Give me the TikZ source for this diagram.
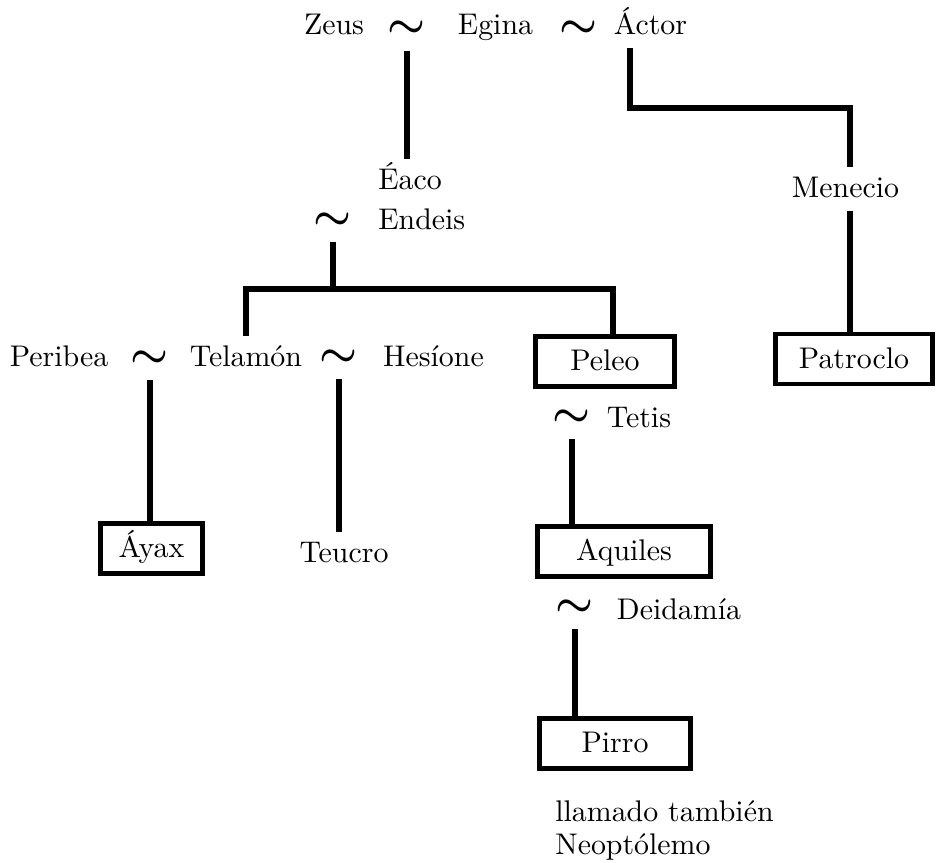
\documentclass[tikz,border=0pt]{standalone}
\usepackage{fontspec}
\usepackage{amsmath}
\setmainfont{lmroman10-regular.otf}

\begin{document}
\begin{tikzpicture}[
	person/.style={anchor=base,inner xsep=0.05cm,inner ysep=0.17cm,text height=0.45cm,text depth=0.08cm,font=\fontsize{17}{20}\selectfont},
	wed/.style={inner sep=0pt,minimum height=0.3cm,font=\fontsize{17}{20}\selectfont},
	boxed/.style={draw,line width=2.6pt,minimum height=1.0cm,inner sep=0pt,text height=0.45cm,text depth=0.08cm,font=\fontsize{17}{20}\selectfont},
	link/.style={line width=3pt},
	wedlink/.style={link,shorten <=0.25cm}]
			\useasboundingbox (0,0) rectangle (18.76,17.26);
			\node[person] (Zeus)at(6.68,16.56) {Zeus};
			\node[wed] (s1)at(8.14,16.67) {\scalebox{1.4}{\boldmath$\sim$}};
			\node[person] (Egina)at(9.91,16.56) {Egina};
			\node[wed] (s2)at(11.58,16.67) {\scalebox{1.4}{\boldmath$\sim$}};
			\node[person] (Actor)at(13.01,16.56) {Áctor};
			\node[person,anchor=base west] (Eaco)at(7.51,13.46) {Éaco};
			\node[wed] (s3)at(6.66,12.84) {\scalebox{1.4}{\boldmath$\sim$}};
			\node[person,anchor=base west] (Endeis)at(7.51,12.66) {Endeis};
			\node[person] (Menecio)at(16.91,13.30) {Menecio};
			\node[person] (Peribea)at(1.18,9.92) {Peribea};
			\node[wed] (s4)at(3.00,10.08) {\scalebox{1.4}{\boldmath$\sim$}};
			\node[person] (Telamon)at(4.92,9.92) {Telamón};
			\node[wed] (s5)at(6.78,10.10) {\scalebox{1.4}{\boldmath$\sim$}};
			\node[person] (Hesione)at(8.67,9.92) {Hesíone};
			\node[boxed,minimum width=2.78cm] (Peleo)at(12.10,10.03) {Peleo};
			\node[boxed,minimum width=3.14cm] (Patroclo)at(17.08,10.08) {Patroclo};
			\node[wed] (s6)at(11.44,8.90) {\scalebox{1.4}{\boldmath$\sim$}};
			\node[person] (Tetis)at(12.78,8.70) {Tetis};
			\node[boxed,minimum width=2.04cm] (Ayax)at(3.03,6.29) {Áyax};
			\node[person] (Teucro)at(6.88,6.00) {Teucro};
			\node[boxed,minimum width=3.46cm] (Aquiles)at(12.48,6.23) {Aquiles};
			\node[wed] (s7)at(11.50,5.10) {\scalebox{1.4}{\boldmath$\sim$}};
			\node[person] (Deidamia)at(13.58,4.86) {Deidamía};
			\node[boxed,minimum width=3.02cm] (Pirro)at(12.30,2.39) {Pirro};
			\node[person,anchor=base west] (llamado)at(11.05,0.82) {llamado también};
			\node[person,anchor=base west] (Neoptolemo)at(11.05,0.16) {Neoptólemo};
			\coordinate (ak) at (12.60,15.10);
			\coordinate (am) at (17.00,15.10);
			\coordinate (bp) at (12.26,11.48);
			\draw[wedlink] (s1) -- (s1 |- Eaco.north);
			\draw[link] (ak |- Actor.south) -- (ak) -- (am) -- (am |- Menecio.north);
			\draw[link] (Menecio.south -| am) -- (am |- Patroclo.north);
			\draw[wedlink] (s3) -- (s3 |- bp);
			\draw[link] (Telamon.north) |- (bp) -- (bp |- Peleo.north);
			\draw[wedlink] (s4) -- (s4 |- Ayax.north);
			\draw[wedlink] (s5) -- (s5 |- Teucro.north);
			\draw[wedlink] (s6) -- (s6 |- Aquiles.north);
			\draw[wedlink] (s7) -- (s7 |- Pirro.north);
			\end{tikzpicture}
\end{document}
